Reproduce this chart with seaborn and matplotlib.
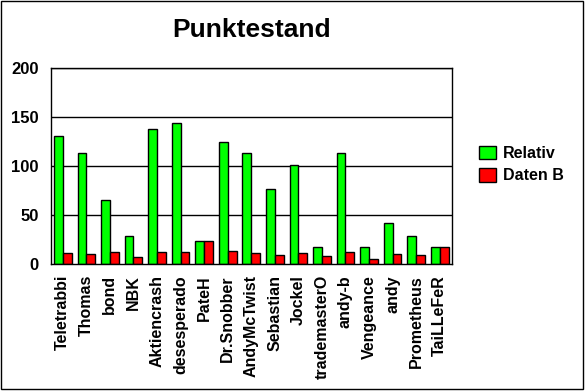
import matplotlib
matplotlib.use("Agg")
import matplotlib.pyplot as plt
import seaborn as sns
import pandas as pd
from matplotlib.patches import Rectangle

names = ["Teletrabbi", "Thomas", "bond", "NBK", "Aktiencrash", "desesperado",
         "PateH", "Dr.Snobber", "AndyMcTwist", "Sebastian", "Jockel",
         "trademasterO", "andy-b", "Vengeance", "andy", "Prometheus", "TaiLLeFeR"]
relativ = [131, 113, 65, 29, 138, 144, 23, 125, 113, 77, 101, 17, 113, 17, 42, 29, 17]
daten_b = [11, 10, 12, 7, 12, 12, 23, 13, 11, 9, 11, 8, 12, 5, 10, 9, 17]
series_names = ["Relativ", "Daten B"]
colors = ["#00FF00", "#FF0000"]
y_ticks = [0, 50, 100, 150, 200]

df = pd.DataFrame({
    "name": names * 2,
    "value": relativ + daten_b,
    "series": [series_names[0]] * len(names) + [series_names[1]] * len(names),
})

sns.set_style("white")
plt.rcParams["font.family"] = ["Liberation Sans", "DejaVu Sans"]
plt.rcParams["text.color"] = "black"
plt.rcParams["xtick.color"] = "black"
plt.rcParams["ytick.color"] = "black"
plt.rcParams["axes.labelcolor"] = "black"

W, H = 585, 392
fig = plt.figure(figsize=(W / 100, H / 100), dpi=100)
ax = fig.add_axes([51 / W, 1 - 264 / H, (451.5 - 51) / W, (264 - 68.3) / H])

sns.barplot(data=df, x="name", y="value", hue="series", palette=colors,
            width=0.75, edgecolor="black", linewidth=1, saturation=1,
            ax=ax, legend=True)

ax.set_ylim(0, 200)
ax.set_xlim(-0.5, len(names) - 0.5)
ax.set_yticks(y_ticks)
ax.set_yticklabels([str(t) for t in y_ticks], fontsize=12, fontweight="bold")
ax.set_xticks(range(len(names)))
ax.set_xticklabels(names, rotation=90, fontsize=11.5, fontweight="bold")
ax.tick_params(axis="y", length=0, pad=9)
ax.tick_params(axis="x", length=0, pad=8)
ax.set_xlabel("")
ax.set_ylabel("")
for y in y_ticks[1:]:
    ax.axhline(y, color="black", linewidth=1, zorder=0.5)
for s in ax.spines.values():
    s.set_color("black")
    s.set_linewidth(1)
    s.set_visible(True)

handles, labels = ax.get_legend_handles_labels()
ax.legend(handles, labels, loc="upper left",
          bbox_to_anchor=(479 / W, 1 - 146 / H), bbox_transform=fig.transFigure,
          frameon=False, borderpad=0, borderaxespad=0, handlelength=1.05,
          handleheight=0.9, handletextpad=0.45, labelspacing=0.45,
          prop={"size": 11.5, "weight": "bold"})

fig.text(251.5 / W, 1 - 37 / H, "Punktestand", ha="center", va="baseline",
         fontsize=19, fontweight="bold")

fig.patches.append(Rectangle((1 / W, 3 / H), 582 / W, 388 / H,
                             transform=fig.transFigure, fill=False,
                             edgecolor="black", linewidth=1))

fig.savefig("out.png", dpi=100, facecolor="white")
